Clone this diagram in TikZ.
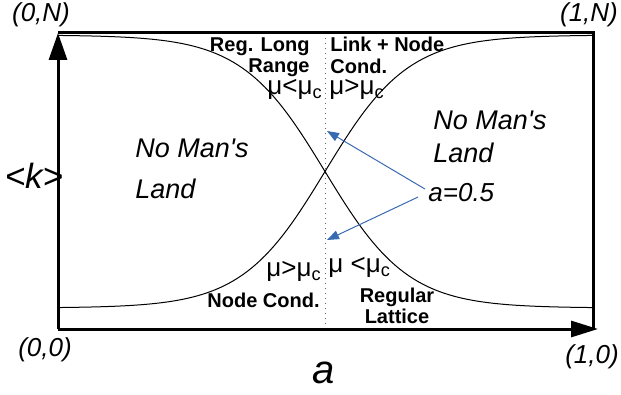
\documentclass[tikz,border=0pt]{standalone}
\usepackage{fontspec}
\setmainfont{Liberation Sans}
\usetikzlibrary{arrows.meta}
\definecolor{arrblue}{RGB}{56,106,178}
\tikzset{
  crn/.style={font=\itshape\fontsize{13}{15}\selectfont,inner sep=0pt},
  axl/.style={font=\itshape\fontsize{18}{20}\selectfont,inner sep=0pt},
  land/.style={font=\itshape\fontsize{13.5}{20.5}\selectfont,align=left,inner sep=0pt},
  reg/.style={font=\bfseries\fontsize{10}{10.7}\selectfont,inner sep=0pt},
  mu/.style={font=\fontsize{13}{14}\selectfont,inner sep=0pt},
  frm/.style={line width=1.5pt},
  crv/.style={line width=0.5pt},
  pointer/.style={draw=arrblue,line width=0.5pt,-{Triangle[length=6pt,width=4.5pt]}},
}

\begin{document}
\begin{tikzpicture}[x=0.5pt,y=-0.5pt]
  \useasboundingbox (0,0) rectangle (621,395);
  \coordinate (o) at (58,329);
  \coordinate (on) at (58,33);
  \coordinate (nn) at (593,33);
  \coordinate (n0) at (593,329);
  \coordinate (xend) at (598,329);
  \coordinate (midtop) at (325,33);
  \coordinate (midbot) at (325,329);
  \coordinate (hitup) at (327,131);
  \coordinate (hitdn) at (327,240);
  \draw[black!60,dotted,line width=0.5pt] (midtop) -- (midbot);
  \draw[crv] plot[domain=58:593,samples=120] (\x,{35+273/(1+exp(-0.024*(\x-325)))});
  \draw[crv] plot[domain=58:593,samples=120] (\x,{308-273/(1+exp(-0.024*(\x-325)))});
  \draw[frm] (on) -- (nn) -- (n0);
  \draw[frm,-{Triangle[length=13.5pt,width=9pt]}] (o) -- (on);
  \draw[frm,-{Triangle[length=13.5pt,width=8pt]}] (o) -- (xend);
  \node[crn] (c0n) at (41,15) {(0,N)};
  \node[crn] (c1n) at (589,15) {(1,N)};
  \node[crn] (c00) at (45,350) {(0,0)};
  \node[crn] (c10) at (592,357) {(1,0)};
  \node[axl,font=\itshape\fontsize{17.5}{20}\selectfont] (kax) at (34,176) {<k>};
  \node[axl,font=\itshape\fontsize{20}{22}\selectfont] (aax) at (324,373) {a};
  \node[land,anchor=north west] (nmleft) at (135,139) {No Man\textquotesingle s\\Land};
  \node[land,anchor=north west,font=\itshape\fontsize{13.5}{16.5}\selectfont] (nmright) at (433,111) {No Man\textquotesingle s\\Land};
  \node[reg,align=right,anchor=north east] (longr) at (310,37) {Reg. Long\\Range};
  \node[reg,align=left,anchor=north west] (linkn) at (330,37) {Link + Node\\Cond.};
  \node[reg,anchor=base east] (nodec) at (320,307) {Node Cond.};
  \node[reg,align=center,anchor=north,font=\bfseries\fontsize{10}{10.5}\selectfont] (latt) at (397,288) {Regular\\Lattice};
  \node[mu,anchor=base east] (mutl) at (323,95) {μ<μ\textsubscript{c}};
  \node[mu,anchor=base west] (mutr) at (329,95) {μ>μ\textsubscript{c}};
  \node[mu,anchor=base east] (mubl) at (322,277) {μ>μ\textsubscript{c}};
  \node[mu,anchor=base west] (mubr) at (328,273) {μ <μ\textsubscript{c}};
  \node[crn,anchor=base west] (half) at (428,202) {a=0.5};
  \draw[pointer] ([shift={(-3,-4)}]half.west) -- (hitup);
  \draw[pointer] ([shift={(-10,4)}]half.west) -- (hitdn);
\end{tikzpicture}
\end{document}
